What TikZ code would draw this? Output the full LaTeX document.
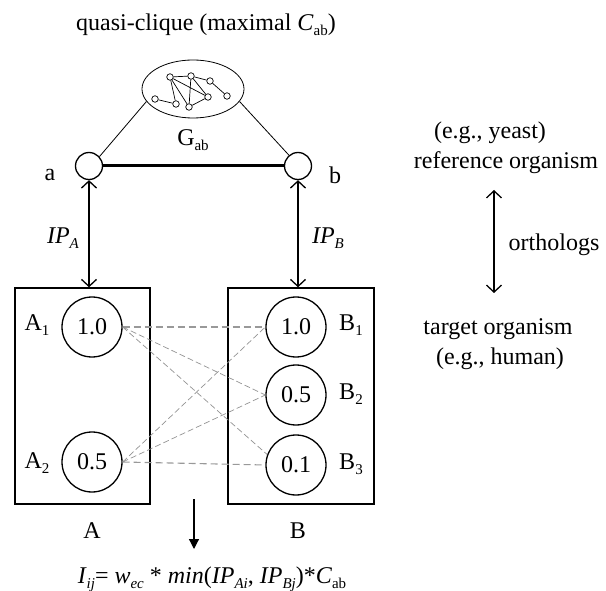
\documentclass[tikz,border=0pt]{standalone}
\usepackage{fontspec}
\setmainfont{Liberation Serif}
\usetikzlibrary{arrows.meta,shapes.geometric}
\newcommand{\lsub}[1]{\raisebox{-0.22em}{\fontsize{15}{15}\selectfont #1}}
\begin{document}
\begin{tikzpicture}[x=1pt,y=-1pt,
  font=\fontsize{24}{28}\selectfont,
  txt/.style={inner sep=0pt, anchor=center},
  gn/.style={circle, draw, fill=white, minimum size=6.5pt, inner sep=0pt, line width=0.7pt},
  ge/.style={line width=0.7pt},
  endn/.style={circle, draw, minimum size=27pt, inner sep=0pt, line width=1.3pt},
  valn/.style={circle, draw, minimum size=60pt, inner sep=0pt, line width=1.3pt},
  boxn/.style={rectangle, draw, inner sep=0pt, line width=1.4pt},
  dbl/.style={line width=1.3pt, {Straight Barb[length=7pt,width=15pt]}-{Straight Barb[length=7pt,width=15pt]}},
  hdash/.style={draw=gray!80, line width=1.1pt, dash pattern=on 7pt off 4pt},
  ddash/.style={draw=gray!85, line width=0.7pt, dash pattern=on 6pt off 3pt},
]
\useasboundingbox (0,0) rectangle (606,591);

% title
\node[txt] (title) at (206,25) {quasi-clique (maximal \textit{C}\lsub{ab})};

% quasi-clique ellipse with small graph
\node[ellipse, draw, minimum width=102pt, minimum height=58pt, inner sep=0pt, line width=0.8pt] (G) at (193,89) {};
\node[gn] (g1) at (170,77) {};
\node[gn] (g2) at (191,76) {};
\node[gn] (g3) at (210,81) {};
\node[gn] (g4) at (227,96) {};
\node[gn] (g5) at (208,97) {};
\node[gn] (g6) at (189,107) {};
\node[gn] (g7) at (176,104) {};
\node[gn] (g8) at (155,99) {};
\draw[ge] (g1) -- (g2);
\draw[ge] (g2) -- (g3);
\draw[ge] (g3) -- (g4);
\draw[ge] (g1) -- (g5);
\draw[ge] (g1) -- (g6);
\draw[ge] (g1) -- (g7);
\draw[ge] (g2) -- (g6);
\draw[ge] (g2) -- (g5);
\draw[ge] (g6) -- (g5);
\draw[ge] (g8) -- (g7);

\node[txt] (gab) at (193,140) {G\lsub{ab}};

% a and b
\node[endn] (a) at (89,166) {};
\node[endn] (b) at (298,166) {};
\node[txt] (la) at (50,175) {a};
\node[txt] (lb) at (335,175) {b};
\draw[line width=0.8pt] (G.195) -- (a.42);
\draw[line width=0.8pt] (G.345) -- (b.130);
\draw[line width=3pt] (a) -- (b);

% boxes
\node[boxn, minimum width=135pt, minimum height=216pt] (A) at (82.5,396) {};
\node[boxn, minimum width=146pt, minimum height=216pt] (B) at (301,396) {};

\draw[dbl] (a.south) -- (a.south |- A.north);
\draw[dbl] (b.south) -- (b.south |- B.north);
\node[txt] (ipa) at (63,238) {\textit{IP}\lsub{\textit{A}}};
\node[txt] (ipb) at (328,238) {\textit{IP}\lsub{\textit{B}}};

% value circles
\node[valn] (A1) at (92,327) {1.0};
\node[valn] (A2) at (92,462) {0.5};
\node[valn] (B1) at (296,327) {1.0};
\node[valn] (B2) at (296,395) {0.5};
\node[valn] (B3) at (296,465) {0.1};
\node[txt] (lA1) at (37,325) {A\lsub{1}};
\node[txt] (lA2) at (37,463) {A\lsub{2}};
\node[txt] (lB1) at (351,325) {B\lsub{1}};
\node[txt] (lB2) at (351,394) {B\lsub{2}};
\node[txt] (lB3) at (351,464) {B\lsub{3}};

% dashed connections
\draw[hdash] (A1.east) -- (B1.west);
\draw[hdash] (A2.east) -- (B3.west);
\draw[ddash] (A1.east) -- (B2.west);
\draw[ddash] (A1.east) -- (B3.160);
\draw[ddash] (A2.east) -- (B1.west);
\draw[ddash] (A2.east) -- (B2.west);

\node[txt] (lA) at (92,531) {A};
\node[txt] (lB) at (298,531) {B};

% formula
\coordinate (dtop) at (194,499);
\coordinate (dbot) at (194,549);
\draw[line width=1.2pt, -{Triangle[length=10pt,width=10pt]}] (dtop) -- (dbot);
\node[txt] (F) at (212,579) {\textit{I}\lsub{\textit{ij}}= \textit{w}\lsub{\textit{ec}} * \textit{min}(\textit{IP}\lsub{\textit{Ai}}, \textit{IP}\lsub{\textit{Bj}})*\textit{C}\lsub{ab}};

% right side
\node[txt] (ey) at (490,133) {(e.g., yeast)};
\node[txt] (ro) at (506,163) {reference organism};
\coordinate (o1) at (494,190);
\coordinate (o2) at (494,293);
\draw[dbl] (o1) -- (o2);
\node[txt] (orth) at (554,245) {orthologs};
\node[txt] (to) at (498,329) {target organism};
\node[txt] (eh) at (500,359) {(e.g., human)};
\end{tikzpicture}
\end{document}
